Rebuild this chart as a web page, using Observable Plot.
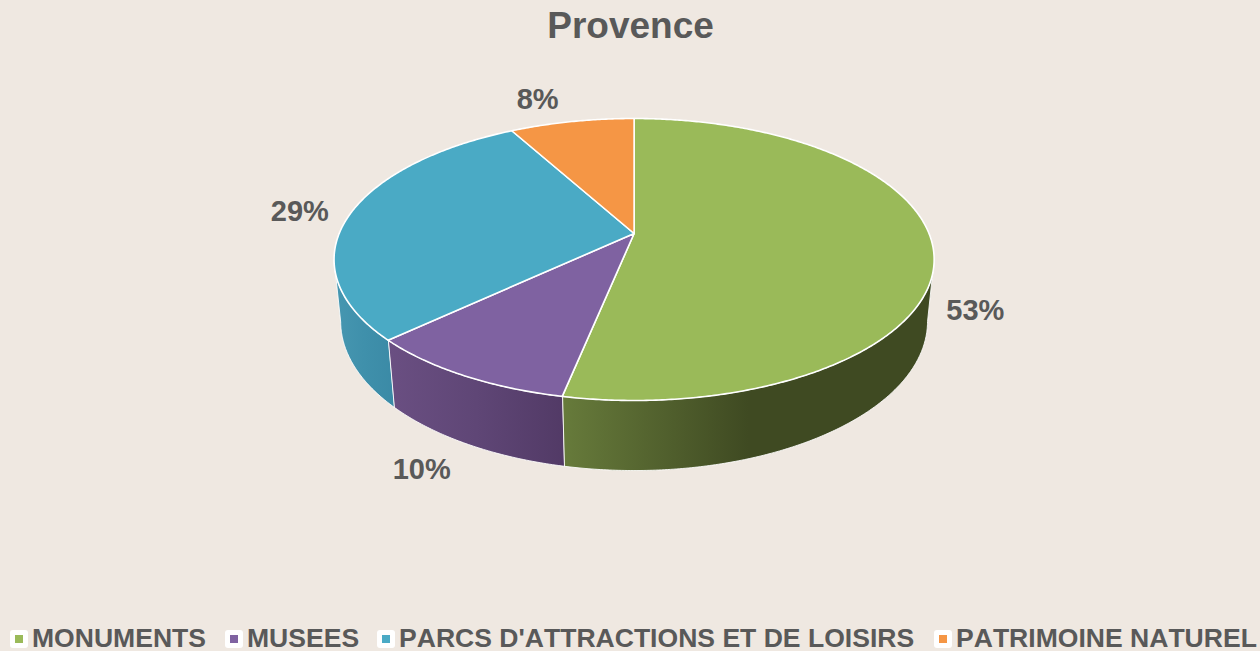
<!DOCTYPE html>
<html lang="fr">
<head>
<meta charset="utf-8">
<script src="https://cdn.jsdelivr.net/npm/d3@7"></script>
<script src="https://cdn.jsdelivr.net/npm/@observablehq/plot@0.6"></script>
<style>
  html, body { margin: 0; padding: 0; background: #efe8e1; overflow: hidden; }
  body { width: 1260px; height: 651px; font-family: "Liberation Sans", Arial, sans-serif; color: #595959; position: relative; font-kerning: none; }
  #title { height: 60px; line-height: 52px; font-size: 37px; font-weight: 700; text-align: center; box-sizing: border-box; width: 1261px; }
  #chart { height: 540px; }
  #chart svg { display: block; background: transparent; font-kerning: none; }
  #legend { position: relative; height: 51px; font-size: 26.55px; font-weight: 700; }
  .item { position: absolute; top: 24px; height: 28px; line-height: 28px; white-space: nowrap; }
  .item .box { position: absolute; left: 0; top: 6px; width: 18px; height: 18px; background: #fff; border-radius: 3px; }
  .item .box i { position: absolute; left: 5px; top: 5px; width: 8px; height: 8px; display: block; }
  .item span { position: absolute; left: 22px; top: 0; }
</style>
</head>
<body>
<div id="title"></div>
<div id="chart"></div>
<div id="legend"></div>
<script>
const chartTitle = "Provence";
const categories = ["MONUMENTS", "MUSEES", "PARCS D'ATTRACTIONS ET DE LOISIRS", "PATRIMOINE NATUREL"];
const shares = [53.2, 9.8, 29, 8];
const colors = ["#9aba59", "#7f62a1", "#4aaac5", "#f59645"];
const sideColors = [
  ["#677b3b", "#3f4a22", "#3f4a22"],
  ["#6a4f82", "#5f4676", "#523a66"],
  ["#4797b1", "#3f90ab", "#3b8aa6"],
  null
];
const legendLeft = [10, 225, 377, 934];

// Perspective view of a disc of radius 1 with thickness
const tilt = 0.1844, depthFall = 0.0218, thickness = 0.4574;
const project = (t, r = 1, h = 0) => {
  const w = 1 + tilt * r * Math.cos(t) + depthFall * h;
  return {u: r * Math.sin(t) / w, v: (-r * Math.cos(t) + thickness * h) / w};
};
const turn = 2 * Math.PI;
const total = d3.sum(shares);
const cumulative = d3.cumsum(shares);
const slices = categories.map((name, i) => ({
  name, i, share: shares[i],
  t0: (cumulative[i] - shares[i]) / total * turn,
  t1: cumulative[i] / total * turn
}));
const arc = (a, b, h) => {
  const n = Math.max(2, Math.ceil(Math.abs(b - a) / (turn / 720)));
  return d3.range(n + 1).map(k => project(a + (b - a) * k / n, 1, h));
};

// silhouette limits of the visible wall
const wallFrom = Math.acos(-tilt), wallTo = turn - wallFrom;

const topFaces = slices.map(s => Plot.line(
  [project(0, 0), ...arc(s.t0, s.t1, 0)],
  {x: "u", y: "v", curve: "linear-closed", fill: colors[s.i], stroke: "#fff", strokeWidth: 1.6, strokeLinejoin: "round"}
));

const walls = slices.filter(s => sideColors[s.i] && s.t1 > wallFrom && s.t0 < wallTo).map(s => {
  const a = Math.max(s.t0, wallFrom), b = Math.min(s.t1, wallTo);
  return Plot.line(
    [...arc(a, b, 0), ...arc(b, a, 1)],
    {x: "u", y: "v", curve: "linear-closed", fill: `url(#wall${s.i})`, stroke: "#fff", strokeWidth: 1, strokeOpacity: 0.85, strokeLinejoin: "round"}
  );
});

const wallDefs = () => {
  const defs = d3.create("svg:defs");
  sideColors.forEach((stops, i) => {
    if (!stops) return;
    const g = defs.append("linearGradient").attr("id", `wall${i}`)
      .attr("x1", 0).attr("x2", 1).attr("y1", 0).attr("y2", 0);
    stops.forEach((c, k) => g.append("stop")
      .attr("offset", k === 1 && i === 0 ? 0.5 : k / 2)
      .attr("stop-color", c));
  });
  return defs.node();
};

// label anchor: radius, height on the wall, and pixel nudge
const labelSpots = [
  {r: 1.14, h: 1, dx: 7, dy: -0.5},
  {r: 1.197, h: 0.835, dx: -4, dy: 0.5},
  {r: 1.185, h: 0, dx: -0.5, dy: 3},
  {r: 1.24, h: 0, dx: -22, dy: 0}
];
const labels = slices.map(s => {
  const spot = labelSpots[s.i];
  const p = project((s.t0 + s.t1) / 2, spot.r, spot.h);
  return Plot.text([{...p, label: `${Math.round(s.share)}%`}], {
    x: "u", y: "v", text: "label", dx: spot.dx, dy: spot.dy,
    fontSize: 29, fontWeight: 700, fontFamily: "Liberation Sans, Arial, sans-serif", fill: "#595959"
  });
});

const plot = Plot.plot({
  width: 1260, height: 540,
  margin: 0,
  style: {background: "transparent", overflow: "visible"},
  x: {domain: [-633.6 / 294.9, 626.4 / 294.9], range: [0, 1260], axis: null},
  y: {domain: [-173 / 136.2, 367 / 136.2], range: [0, 540], axis: null},
  marks: [wallDefs, ...walls, ...topFaces, ...labels]
});
document.getElementById("chart").append(plot);
document.getElementById("title").textContent = chartTitle;

const legend = d3.select("#legend");
categories.forEach((name, i) => {
  const item = legend.append("div").attr("class", "item").style("left", legendLeft[i] + "px");
  item.append("div").attr("class", "box").append("i").style("background", colors[i]);
  item.append("span").text(name);
});
</script>
</body>
</html>
